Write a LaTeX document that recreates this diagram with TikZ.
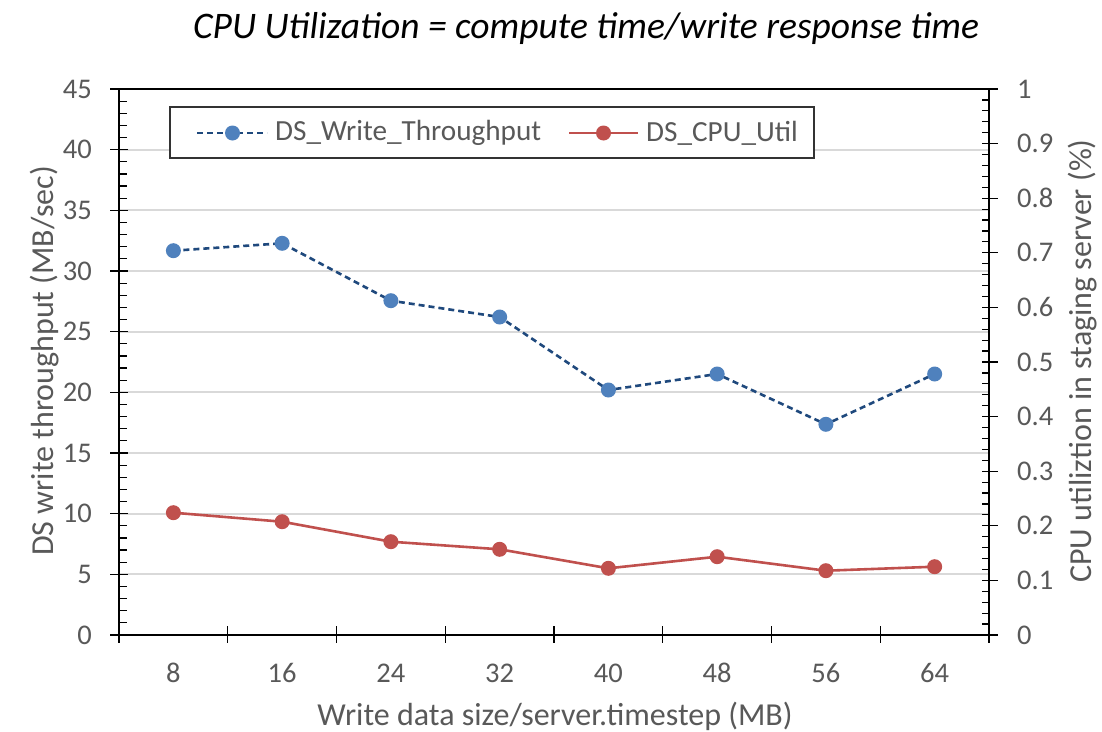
\documentclass[tikz,border=0pt]{standalone}
\usepackage{fontspec}
\setmainfont{Carlito}
\definecolor{txtgray}{HTML}{595959}
\definecolor{gridgray}{HTML}{D9D9D9}
\definecolor{mblue}{HTML}{4F81BD}
\definecolor{lblue}{HTML}{1F497D}
\definecolor{mred}{HTML}{C0504D}
\begin{document}
\begin{tikzpicture}[x=1pt,y=-1pt,
  grid/.style={draw=gridgray,line width=2pt},
  axisline/.style={draw=black,line width=1.5pt},
  tickline/.style={draw=black,line width=1.2pt},
  ticklab/.style={text=txtgray,font=\fontsize{28.5}{32}\selectfont,inner sep=0pt},
  leglab/.style={text=txtgray,font=\fontsize{29.2}{33}\selectfont,inner sep=0pt},
  axtitle/.style={text=txtgray,font=\fontsize{32}{36}\selectfont,inner sep=0pt},
  bmark/.style={circle,fill=mblue,minimum size=15pt,inner sep=0pt},
  rmark/.style={circle,fill=mred,minimum size=15pt,inner sep=0pt},
  bline/.style={draw=lblue,line width=2.6pt,dash pattern=on 6pt off 4pt},
  rline/.style={draw=mred,line width=2.6pt},
  legbox/.style={draw=black!80,line width=1.2pt}]
\fill[white] (0,0) rectangle (1102,731);
% gridlines
\foreach \v in {5,10,...,40}
  \draw[grid] (119,{635-\v*12.133}) -- (989,{635-\v*12.133});
% frame
\draw[axisline] (119,89) -- (989,89);
\draw[axisline] (119,89) -- (119,635);
\draw[axisline] (989,89) -- (989,635);
\draw[axisline] (119,635) -- (989,635);
% left ticks
\foreach \v in {0,5,...,45}{
  \draw[tickline] (110,{635-\v*12.133}) -- (128,{635-\v*12.133});
  \node[ticklab,anchor=east] (l\v) at (92,{635-\v*12.133}) {\v};
}
\foreach \v in {1,...,44}
  \draw[tickline] (119,{635-\v*12.133}) -- (127,{635-\v*12.133});
% right ticks
\foreach \v/\t in {0/0,1/0.1,2/0.2,3/0.3,4/0.4,5/0.5,6/0.6,7/0.7,8/0.8,9/0.9,10/1}{
  \draw[tickline] (982,{635-\v*54.6}) -- (998,{635-\v*54.6});
  \node[ticklab,anchor=west] (r\v) at (1017,{635-\v*54.6}) {\t};
}
\foreach \v in {1,...,49}
  \draw[tickline] (982,{635-\v*10.92}) -- (989,{635-\v*10.92});
% bottom ticks
\foreach \k in {0,...,8}
  \draw[tickline] ({119+\k*108.75},626) -- ({119+\k*108.75},643);
\foreach \k/\t in {0/8,1/16,2/24,3/32,4/40,5/48,6/56,7/64}
  \node[ticklab] (x\k) at ({173.4+\k*108.75},673) {\t};
% axis titles
\node[axtitle,rotate=90] (ytl) at (45,361) {DS write throughput (MB/sec)};
\node[axtitle,rotate=90] (ytr) at (1083,361) {CPU utiliztion in staging server (\%)};
\node[axtitle] (xt) at (555,716) {Write data size/server.timestep (MB)};
\node[inner sep=0pt,font=\fontsize{37.5}{42}\selectfont\itshape] (title) at (586,29) {CPU Utilization = compute time/write response time};
% blue series
\foreach \k/\y in {0/250.7,1/243.3,2/300.7,3/317,4/390,5/374,6/424.3,7/374}
  \coordinate (bc\k) at ({173.4+\k*108.75},\y);
\draw[bline] (bc0) -- (bc1) -- (bc2) -- (bc3) -- (bc4) -- (bc5) -- (bc6) -- (bc7);
\foreach \k in {0,...,7}
  \node[bmark] (b\k) at (bc\k) {};
% red series
\foreach \k/\y in {0/512.7,1/521.7,2/541.7,3/549.3,4/568.3,5/556.7,6/570.7,7/566.7}
  \coordinate (rc\k) at ({173.4+\k*108.75},\y);
\draw[rline] (rc0) -- (rc1) -- (rc2) -- (rc3) -- (rc4) -- (rc5) -- (rc6) -- (rc7);
\foreach \k in {0,...,7}
  \node[rmark] (r\k m) at (rc\k) {};
% legend
\draw[legbox,fill=white] (170,107) rectangle (814,158);
\coordinate (lb1) at (197,133);
\coordinate (lb2) at (267,133);
\draw[bline] (lb1) -- (lb2);
\node[bmark] (lbm) at (232.5,133) {};
\node[leglab,anchor=west] (lbt) at (275,133) {DS\_Write\_Throughput};
\coordinate (lr1) at (569,133);
\coordinate (lr2) at (638,133);
\draw[rline] (lr1) -- (lr2);
\node[rmark] (lrm) at (603.5,133) {};
\node[leglab,anchor=west] (lrt) at (646,133) {DS\_CPU\_Util};
\end{tikzpicture}
\end{document}
